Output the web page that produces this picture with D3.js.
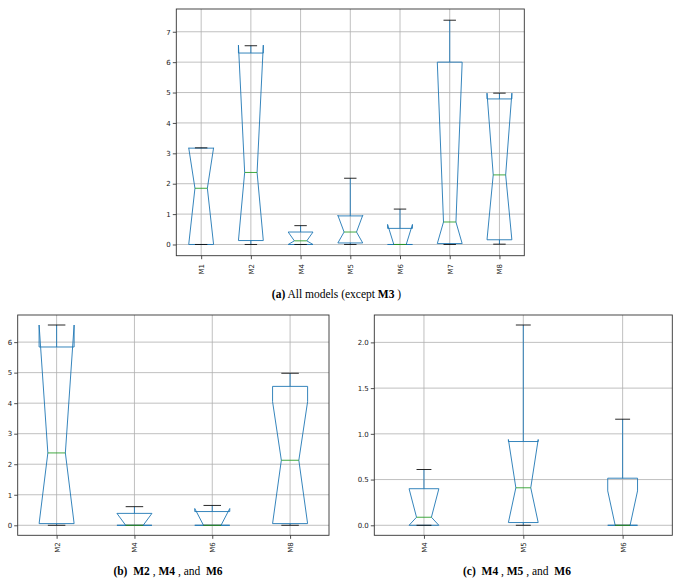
<!DOCTYPE html>
<html><head><meta charset="utf-8">
<script src="https://cdn.jsdelivr.net/npm/d3@7"></script>
<style>body{margin:0;background:#fff}svg{display:block}</style>
</head><body>
<script>
// ---------- Panel (a): All models (except M3) ----------
const modelsA    = ["M1","M2","M4","M5","M6","M7","M8"];
const whiskerLoA = [0,    0,    0,    0,    0,    0,    0.01];
const q1A        = [0,    0.13, 0,    0.05, 0,    0.03, 0.155];
const medianA    = [1.85, 2.37, 0.12, 0.41, 0,    0.74, 2.29];
const q3A        = [3.17, 6.30, 0.41, 0.94, 0.53, 6.00, 4.79];
const whiskerHiA = [3.18, 6.54, 0.62, 2.18, 1.165,7.38, 4.98];
const notchLoA   = [0,    0.13, 0,    0.05, 0,    0.03, 0.155];
const notchHiA   = [3.18, 6.56, 0.41, 0.96, 0.66, 6.00, 4.98];
const yTicksA    = [0,1,2,3,4,5,6,7];

// ---------- Panel (b): M2, M4, M6 (and M8) ----------
const modelsB    = ["M2","M4","M6","M8"];
const whiskerLoB = [0,    0,    0,    0];
const q1B        = [0.055,0,    0,    0.055];
const medianB    = [2.37, 0,    0,    2.13];
const q3B        = [5.84, 0.39, 0.45, 4.55];
const whiskerHiB = [6.56, 0.61, 0.65, 4.98];
const notchLoB   = [0.055,0,    0,    0.055];
const notchHiB   = [6.56, 0.39, 0.55, 4.05];
const yTicksB    = [0,1,2,3,4,5,6];

// ---------- Panel (c): M4, M5, M6 ----------
const modelsC    = ["M4","M5","M6"];
const whiskerLoC = [0,    0,    0];
const q1C        = [0,    0.03, 0];
const medianC    = [0.088,0.41, 0];
const q3C        = [0.40, 0.916,0.515];
const whiskerHiC = [0.61, 2.19, 1.16];
const notchLoC   = [0,    0.03, 0];
const notchHiC   = [0.40, 0.938,0.376];
const yTicksC    = [0,0.5,1.0,1.5,2.0];

const svg = d3.select("body").append("svg").attr("width",685).attr("height",581);

const BLUE = "#1f77b4", GREEN = "#2ca02c", GRID = "#b0b0b0";

function drawPanel(p){
  const n = p.models.length;
  const lo = d3.min([...p.whiskerLo, ...p.notchLo, ...p.q1]);
  const hi = d3.max([...p.whiskerHi, ...p.notchHi, ...p.q3]);
  const m = (hi - lo) * 0.05;
  const y = d3.scaleLinear().domain([lo - m, hi + m]).range([p.bottom, p.top]);
  const x = d3.scaleLinear().domain([0.5, n + 0.5]).range([p.left, p.right]);
  const w = Math.max(0.15, Math.min(0.5, 0.15 * (n - 1)));
  const g = svg.append("g");
  const pos = d3.range(1, n + 1);

  // grid
  g.append("g").selectAll("line").data(p.yTicks).join("line")
    .attr("x1", p.left).attr("x2", p.right)
    .attr("y1", d => y(d)).attr("y2", d => y(d))
    .attr("stroke", GRID).attr("stroke-width", 0.8);
  g.append("g").selectAll("line").data(pos).join("line")
    .attr("y1", p.top).attr("y2", p.bottom)
    .attr("x1", d => x(d)).attr("x2", d => x(d))
    .attr("stroke", GRID).attr("stroke-width", 0.8);

  // axes
  const ya = g.append("g").attr("transform", `translate(${p.left},0)`)
    .call(d3.axisLeft(y).tickValues(p.yTicks).tickFormat(p.fmt).tickSize(3.5).tickSizeOuter(0).tickPadding(2));
  const xa = g.append("g").attr("transform", `translate(0,${p.bottom})`)
    .call(d3.axisBottom(x).tickValues(pos).tickFormat(i => p.models[i - 1]).tickSize(3.5).tickSizeOuter(0));
  [ya, xa].forEach(a => {
    a.select(".domain").remove();
    a.selectAll(".tick line").attr("stroke", "#222").attr("stroke-width", 0.8);
    a.selectAll("text").attr("fill", "#222").style("font-family", "DejaVu Sans").style("font-size", "7px");
  });
  xa.selectAll("text").attr("transform", "rotate(-90)").attr("text-anchor", "end")
    .attr("x", -p.xLabOff).attr("y", 0).attr("dy", "0.35em");

  // boxes
  const idx = d3.range(n);
  const line = d3.line();
  g.append("g").selectAll("path").data(idx).join("path")
    .attr("d", i => {
      const c = i + 1, L = c - w / 2, R = c + w / 2, cL = c - w / 4, cR = c + w / 4;
      const pts = [[L,p.q1[i]],[R,p.q1[i]],[R,p.notchLo[i]],[cR,p.median[i]],[R,p.notchHi[i]],[R,p.q3[i]],
                   [L,p.q3[i]],[L,p.notchHi[i]],[cL,p.median[i]],[L,p.notchLo[i]],[L,p.q1[i]]];
      return line(pts.map(([a,b]) => [x(a), y(b)])) + "Z";
    })
    .attr("fill", "none").attr("stroke", BLUE).attr("stroke-width", 0.9).attr("stroke-linejoin","miter");
  // whiskers
  g.append("g").selectAll("line").data(idx).join("line")
    .attr("x1", i => x(i + 1)).attr("x2", i => x(i + 1))
    .attr("y1", i => y(p.q1[i])).attr("y2", i => y(p.whiskerLo[i]))
    .attr("stroke", BLUE).attr("stroke-width", 0.9);
  g.append("g").selectAll("line").data(idx).join("line")
    .attr("x1", i => x(i + 1)).attr("x2", i => x(i + 1))
    .attr("y1", i => y(p.q3[i])).attr("y2", i => y(p.whiskerHi[i]))
    .attr("stroke", BLUE).attr("stroke-width", 0.9);
  // caps
  ["whiskerLo", "whiskerHi"].forEach(k => {
    g.append("g").selectAll("line").data(idx).join("line")
      .attr("x1", i => x(i + 1 - w / 4)).attr("x2", i => x(i + 1 + w / 4))
      .attr("y1", i => y(p[k][i])).attr("y2", i => y(p[k][i]))
      .attr("stroke", "#111").attr("stroke-width", 0.9);
  });
  // medians
  g.append("g").selectAll("line").data(idx).join("line")
    .attr("x1", i => x(i + 1 - w / 4)).attr("x2", i => x(i + 1 + w / 4))
    .attr("y1", i => y(p.median[i])).attr("y2", i => y(p.median[i]))
    .attr("stroke", GREEN).attr("stroke-width", 0.9);

  // frame
  g.append("rect").attr("x", p.left).attr("y", p.top)
    .attr("width", p.right - p.left).attr("height", p.bottom - p.top)
    .attr("fill", "none").attr("stroke", "#333").attr("stroke-width", 0.9);

  // caption
  const t = svg.append("text").attr("x", p.capX).attr("y", p.capY).attr("text-anchor", "middle")
    .style("font-family", "Liberation Serif").style("font-size", "11.5px").style("white-space", "pre")
    .attr("fill", "#000");
  p.caption.forEach(([s, b]) => t.append("tspan").text(s).style("font-weight", b ? "bold" : "normal"));
}

drawPanel({models: modelsA, whiskerLo: whiskerLoA, q1: q1A, median: medianA, q3: q3A, whiskerHi: whiskerHiA,
  notchLo: notchLoA, notchHi: notchHiA, yTicks: yTicksA, fmt: d3.format("d"),
  left: 176.3, right: 524.3, top: 9, bottom: 255.7, xLabOff: 8.3,
  capX: 336.5, capY: 298,
  caption: [["(a)", true], [" All models (except ", false], ["M3", true], [" )", false]]});

drawPanel({models: modelsB, whiskerLo: whiskerLoB, q1: q1B, median: medianB, q3: q3B, whiskerHi: whiskerHiB,
  notchLo: notchLoB, notchHi: notchHiB, yTicks: yTicksB, fmt: d3.format("d"),
  left: 17.7, right: 329, top: 315, bottom: 535.3, xLabOff: 7,
  capX: 168, capY: 575,
  caption: [["(b)", true], ["  ", false], ["M2", true], [" , ", false], ["M4", true], [" , and  ", false], ["M6", true]]});

drawPanel({models: modelsC, whiskerLo: whiskerLoC, q1: q1C, median: medianC, q3: q3C, whiskerHi: whiskerHiC,
  notchLo: notchLoC, notchHi: notchHiC, yTicks: yTicksC, fmt: d3.format(".1f"),
  left: 374.3, right: 672.3, top: 315, bottom: 535.3, xLabOff: 7,
  capX: 517, capY: 575,
  caption: [["(c)", true], ["  ", false], ["M4", true], [" , ", false], ["M5", true], [" , and  ", false], ["M6", true]]});
</script>
</body></html>
